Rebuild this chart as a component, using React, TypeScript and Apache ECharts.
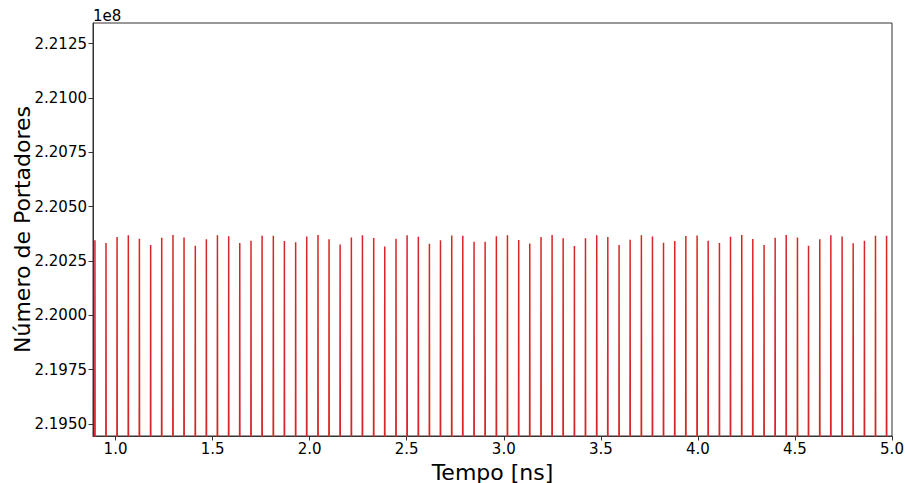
import React, { useEffect, useRef } from "react";
import * as echarts from "echarts";

// Instants of each carrier-count pulse (ns)
const spikeTimesNs = [
  0.894, 0.951, 1.008, 1.066, 1.123, 1.181, 1.238, 1.296, 1.353, 1.411,
  1.468, 1.525, 1.583, 1.640, 1.698, 1.755, 1.813, 1.870, 1.928, 1.985,
  2.043, 2.100, 2.157, 2.215, 2.272, 2.330, 2.387, 2.445, 2.502, 2.560,
  2.617, 2.674, 2.732, 2.789, 2.847, 2.904, 2.962, 3.019, 3.077, 3.134,
  3.192, 3.249, 3.306, 3.364, 3.421, 3.479, 3.536, 3.594, 3.651, 3.709,
  3.766, 3.823, 3.881, 3.938, 3.996, 4.053, 4.111, 4.168, 4.226, 4.283,
  4.341, 4.398, 4.455, 4.513, 4.570, 4.628, 4.685, 4.743, 4.800, 4.858,
  4.915, 4.972,
];

// Peak number of carriers reached by each pulse (units of 1e8)
const peakCarriersE8 = [
  2.203452, 2.203327, 2.203604, 2.203691, 2.203521, 2.203231, 2.203567, 2.203696, 2.203581, 2.203198,
  2.203507, 2.203691, 2.203636, 2.203323, 2.203429, 2.203659, 2.203668, 2.203415, 2.20336, 2.203627,
  2.203696, 2.203498, 2.203258, 2.203581, 2.203691, 2.203558, 2.203166, 2.203521, 2.203691, 2.203613,
  2.203291, 2.203461, 2.203673, 2.203659, 2.203383, 2.203383, 2.203645, 2.203691, 2.203466, 2.2033,
  2.203604, 2.203696, 2.203544, 2.203185, 2.203544, 2.203691, 2.203604, 2.203235, 2.203475, 2.203682,
  2.203627, 2.203337, 2.203415, 2.20365, 2.203673, 2.203429, 2.203327, 2.203613, 2.203696, 2.203512,
  2.203231, 2.203567, 2.203696, 2.203581, 2.203198, 2.203507, 2.203691, 2.203627, 2.203314, 2.203438,
  2.203668, 2.203668,
];

// Level the count falls back to between pulses (below the visible window)
const troughCarriersE8 = 2.19;
const pulseHalfWidthNs = 0.0012;

const xTickValues = [1.0, 1.5, 2.0, 2.5, 3.0, 3.5, 4.0, 4.5, 5.0];
const yTickValues = [2.195, 2.1975, 2.2, 2.2025, 2.205, 2.2075, 2.21, 2.2125];
const xRange = [0.884, 5.0];
const yRange = [2.194447, 2.213453];

const FONT = "DejaVu Sans";
const AXIS_COLOR = "#333";

export default function App() {
  const ref = useRef<HTMLDivElement>(null);

  useEffect(() => {
    if (!ref.current) return;
    const chart = echarts.init(ref.current, undefined, { renderer: "svg" });

    const seriesData: [number, number][] = [];
    spikeTimesNs.forEach((t, i) => {
      seriesData.push([t - pulseHalfWidthNs, troughCarriersE8]);
      seriesData.push([t, peakCarriersE8[i]]);
      seriesData.push([t + pulseHalfWidthNs, troughCarriersE8]);
    });

    chart.setOption({
      animation: false,
      backgroundColor: "#fff",
      grid: {
        left: 93,
        right: 13,
        top: 23,
        bottom: 47,
        containLabel: false,
        outerBoundsMode: "none",
        show: true,
        borderColor: AXIS_COLOR,
        borderWidth: 1,
        backgroundColor: "transparent",
      },
      graphic: [
        {
          type: "text",
          x: 93,
          y: 16,
          style: {
            text: "1e8",
            font: `15px "${FONT}"`,
            fill: "#000",
            textVerticalAlign: "middle",
            textAlign: "left",
          },
        },
      ],
      xAxis: {
        type: "value",
        min: xRange[0],
        max: xRange[1],
        name: "Tempo [ns]",
        nameLocation: "middle",
        nameGap: 25,
        nameMoveOverlap: false,
        nameTextStyle: { fontSize: 22, fontFamily: FONT, color: "#000" },
        axisLine: { show: true, lineStyle: { color: AXIS_COLOR, width: 1 } },
        axisTick: {
          show: true,
          customValues: xTickValues,
          length: 4.5,
          lineStyle: { color: AXIS_COLOR, width: 1 },
        },
        axisLabel: {
          customValues: xTickValues,
          formatter: (v: number) => v.toFixed(1),
          color: "#000",
          fontSize: 15,
          fontFamily: FONT,
          margin: 5,
          showMinLabel: true,
          showMaxLabel: true,
        },
        splitLine: { show: false },
      },
      yAxis: {
        type: "value",
        min: yRange[0],
        max: yRange[1],
        name: "Número de Portadores",
        nameLocation: "middle",
        nameGap: 60,
        nameMoveOverlap: false,
        nameTextStyle: { fontSize: 22, fontFamily: FONT, color: "#000" },
        axisLine: { show: true, lineStyle: { color: AXIS_COLOR, width: 1 } },
        axisTick: {
          show: true,
          customValues: yTickValues,
          length: 4.5,
          lineStyle: { color: AXIS_COLOR, width: 1 },
        },
        axisLabel: {
          customValues: yTickValues,
          formatter: (v: number) => v.toFixed(4),
          color: "#000",
          fontSize: 15,
          fontFamily: FONT,
          margin: 6,
          showMinLabel: true,
          showMaxLabel: true,
        },
        splitLine: { show: false },
      },
      series: [
        {
          type: "line",
          data: seriesData,
          showSymbol: false,
          clip: true,
          silent: true,
          lineStyle: { color: "#d62728", width: 1.5 },
        },
      ],
    });

    return () => chart.dispose();
  }, []);

  return (
    <div
      ref={ref}
      style={{ position: "fixed", left: 0, top: 0, width: 905, height: 483 }}
    />
  );
}
